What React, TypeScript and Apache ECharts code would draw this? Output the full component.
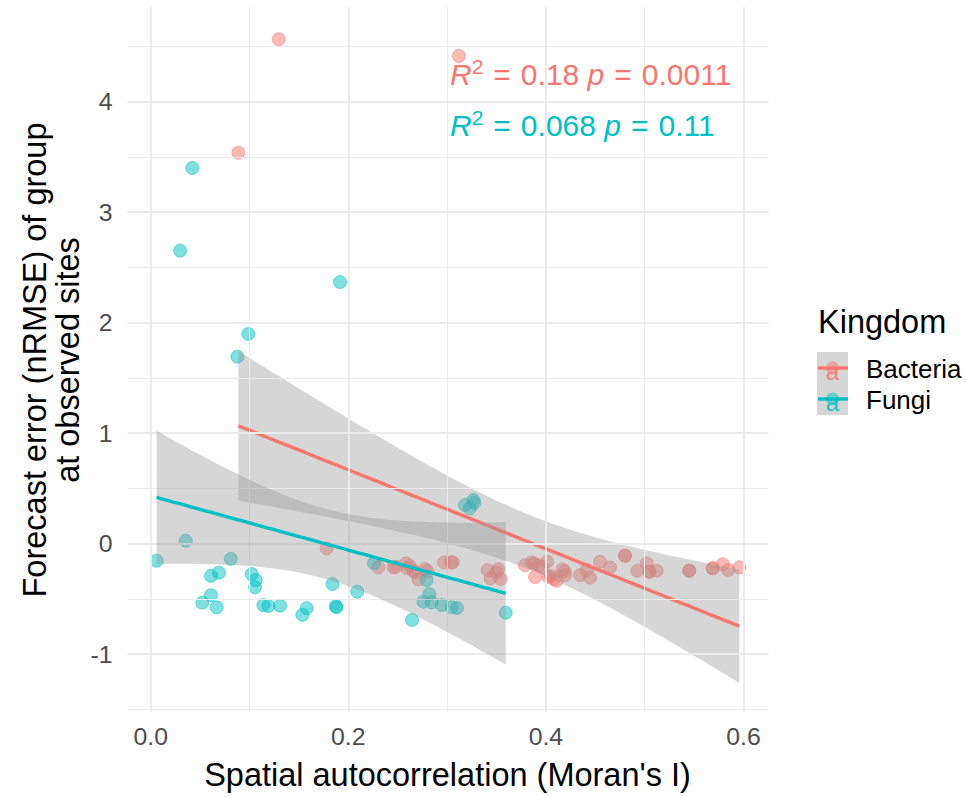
import React, { useEffect, useRef } from "react";
import * as echarts from "echarts";

// Moran's I (x) and forecast nRMSE (y) per group, split by kingdom
const bacteriaX = [
  0.1296, 0.0887, 0.312, 0.178, 0.2304, 0.2456, 0.2584, 0.2597, 0.2658, 0.2776,
  0.2709, 0.2969, 0.3057, 0.341, 0.3518, 0.344, 0.3542, 0.3788, 0.3855, 0.3933,
  0.4014, 0.389, 0.4025, 0.411, 0.4169, 0.4193, 0.4345, 0.4413, 0.4447, 0.4547,
  0.4649, 0.4801, 0.4925, 0.502, 0.5047, 0.5121, 0.5451, 0.5688, 0.579, 0.5846,
  0.5958, 0.262, 0.268, 0.28, 0.35, 0.388, 0.396, 0.405, 0.408, 0.419,
  0.4801, 0.5047, 0.5451, 0.5688, 0.304, 0.248,
];
const bacteriaY = [
  4.565, 3.538, 4.414, -0.042, -0.214, -0.214, -0.178, -0.223, -0.244, -0.229,
  -0.322, -0.169, -0.169, -0.238, -0.232, -0.313, -0.319, -0.194, -0.169, -0.194,
  -0.163, -0.301, -0.301, -0.335, -0.232, -0.284, -0.284, -0.238, -0.307, -0.163,
  -0.214, -0.109, -0.244, -0.178, -0.253, -0.244, -0.244, -0.223, -0.186, -0.238,
  -0.214, -0.2, -0.26, -0.25, -0.26, -0.18, -0.21, -0.29, -0.32, -0.25,
  -0.109, -0.253, -0.244, -0.223, -0.17, -0.21,
];
const fungiX = [
  0.006, 0.0354, 0.0297, 0.0421, 0.081, 0.0877, 0.0988, 0.061, 0.0691, 0.061,
  0.0522, 0.0668, 0.1022, 0.1063, 0.1056, 0.114, 0.1191, 0.1309, 0.1579, 0.1535,
  0.184, 0.1875, 0.188, 0.209, 0.1916, 0.226, 0.2793, 0.282, 0.276, 0.2844,
  0.2945, 0.3047, 0.31, 0.2645, 0.318, 0.3266, 0.323, 0.3593, 0.3275,
];
const fungiY = [
  -0.154, 0.027, 2.652, 3.4, -0.138, 1.692, 1.898, -0.29, -0.262, -0.466,
  -0.534, -0.576, -0.275, -0.329, -0.395, -0.555, -0.564, -0.561, -0.583, -0.643,
  -0.365, -0.565, -0.575, -0.434, 2.368, -0.178, -0.329, -0.455, -0.525, -0.53,
  -0.555, -0.576, -0.582, -0.69, 0.35, 0.395, 0.32, -0.624, 0.37,
];

const kingdoms = ["Bacteria", "Fungi"];
const kingdomColors = ["#F8766D", "#00BFC4"];
const r2Labels = ["0.18", "0.068"];
const pLabels = ["0.0011", "0.11"];

const xMajor = [0, 0.2, 0.4, 0.6];
const xMinor = [0.1, 0.3, 0.5];
const yMajor = [-1, 0, 1, 2, 3, 4];
const yMinor = [-1.5, -0.5, 0.5, 1.5, 2.5, 3.5, 4.5];

const FONT = "'Liberation Sans', Arial, Helvetica, sans-serif";

function rgba(hex: string, a: number) {
  const n = parseInt(hex.slice(1), 16);
  return `rgba(${(n >> 16) & 255},${(n >> 8) & 255},${n & 255},${a})`;
}

// Student t quantile (Cornish-Fisher expansion around the normal quantile)
function tQuantile975(df: number) {
  const z = 1.959964;
  const g1 = (z ** 3 + z) / 4;
  const g2 = (5 * z ** 5 + 16 * z ** 3 + 3 * z) / 96;
  const g3 = (3 * z ** 7 + 19 * z ** 5 + 17 * z ** 3 - 15 * z) / 384;
  return z + g1 / df + g2 / df ** 2 + g3 / df ** 3;
}

// Ordinary least squares fit with a 95% confidence band, evaluated on 80 points
function lmSmooth(xs: number[], ys: number[]) {
  const n = xs.length;
  const mx = xs.reduce((s, v) => s + v, 0) / n;
  const my = ys.reduce((s, v) => s + v, 0) / n;
  let sxx = 0;
  let sxy = 0;
  for (let i = 0; i < n; i++) {
    sxx += (xs[i] - mx) ** 2;
    sxy += (xs[i] - mx) * (ys[i] - my);
  }
  const b = sxy / sxx;
  const a = my - b * mx;
  let sse = 0;
  for (let i = 0; i < n; i++) sse += (ys[i] - a - b * xs[i]) ** 2;
  const s2 = sse / (n - 2);
  const t = tQuantile975(n - 2);
  const lo = Math.min(...xs);
  const hi = Math.max(...xs);
  const line: number[][] = [];
  const band: number[][] = [];
  const steps = 80;
  for (let k = 0; k < steps; k++) {
    const x = lo + ((hi - lo) * k) / (steps - 1);
    const yhat = a + b * x;
    const se = Math.sqrt(s2 * (1 / n + (x - mx) ** 2 / sxx));
    line.push([x, yhat]);
    band.push([x, yhat - t * se, yhat + t * se]);
  }
  return { line, band };
}

const zip = (xs: number[], ys: number[]) => xs.map((x, i) => [x, ys[i]]);

export default function App() {
  const ref = useRef<HTMLDivElement>(null);

  useEffect(() => {
    if (!ref.current) return;
    const chart = echarts.init(ref.current, undefined, { renderer: "svg" });

    const groups = [
      { xs: bacteriaX, ys: bacteriaY },
      { xs: fungiX, ys: fungiY },
    ];
    const fits = groups.map((g) => lmSmooth(g.xs, g.ys));

    const pointSeries = groups.map((g, i) => ({
      type: "scatter",
      name: kingdoms[i],
      data: zip(g.xs, g.ys),
      symbol: "circle",
      symbolSize: 13,
      clip: false,
      z: 2,
      itemStyle: {
        color: rgba(kingdomColors[i], 0.5),
        borderColor: rgba(kingdomColors[i], 0.5),
        borderWidth: 1,
        opacity: 1,
      },
    }));

    const smoothSeries: any[] = [];
    fits.forEach((f, i) => {
      smoothSeries.push({
        type: "custom",
        name: kingdoms[i] + " band",
        data: f.band,
        encode: { x: 0, y: [1, 2] },
        z: 3 + i * 2,
        silent: true,
        renderItem: (params: any, api: any) => {
          if (params.dataIndex !== 0) return null;
          const upper = f.band.map((r) => api.coord([r[0], r[2]]));
          const lower = f.band
            .slice()
            .reverse()
            .map((r) => api.coord([r[0], r[1]]));
          return {
            type: "polygon",
            shape: { points: upper.concat(lower) },
            style: { fill: "rgba(153,153,153,0.4)", stroke: "none" },
          };
        },
      });
      smoothSeries.push({
        type: "line",
        name: kingdoms[i] + " fit",
        data: f.line,
        showSymbol: false,
        symbol: "none",
        z: 4 + i * 2,
        silent: true,
        lineStyle: { color: kingdomColors[i], width: 3.4 },
      });
    });

    const gridLine = (width: number) => ({
      color: "#EBEBEB",
      width,
      type: "solid",
    });

    const gridSeries = {
      type: "scatter",
      name: "grid",
      data: [[0, 0]],
      symbolSize: 0,
      silent: true,
      z: 1,
      itemStyle: { opacity: 0 },
      markLine: {
        silent: true,
        symbol: ["none", "none"],
        label: { show: false },
        animation: false,
        data: [
          ...xMinor.map((v) => ({ xAxis: v, lineStyle: gridLine(1) })),
          ...yMinor.map((v) => ({ yAxis: v, lineStyle: gridLine(1) })),
          ...xMajor.map((v) => ({ xAxis: v, lineStyle: gridLine(2) })),
          ...yMajor.map((v) => ({ yAxis: v, lineStyle: gridLine(2) })),
        ],
      },
    };

    const statTexts = kingdoms.map((_, i) => {
      const c = kingdomColors[i];
      return {
        type: "text",
        left: 450,
        top: 56 + i * 51,
        z: 10,
        style: {
          text: `{i|R}{s|2}{e|=}{n|${r2Labels[i]} }{i|p}{e|=}{n|${pLabels[i]}}`,
          fill: c,
          rich: {
            i: { fontStyle: "italic", fontSize: 30, fontFamily: FONT, fill: c, verticalAlign: "bottom" },
            s: {
              fontSize: 21,
              lineHeight: 21,
              fontFamily: FONT,
              fill: c,
              verticalAlign: "bottom",
              padding: [0, 0, 12, 0],
            },
            e: { fontSize: 30, fontFamily: FONT, fill: c, verticalAlign: "bottom", padding: [0, 10, 0, 10] },
            n: { fontSize: 30, fontFamily: FONT, fill: c, verticalAlign: "bottom" },
          },
        },
      };
    });

    const legendKeys: any[] = [
      {
        type: "rect",
        shape: { x: 817, y: 352, width: 31, height: 63 },
        style: { fill: "#D6D6D6" },
      },
    ];
    kingdoms.forEach((k, i) => {
      const cy = 368 + i * 31;
      legendKeys.push(
        {
          type: "circle",
          shape: { cx: 832.5, cy, r: 6.5 },
          style: { fill: rgba(kingdomColors[i], 0.5) },
        },
        {
          type: "line",
          shape: { x1: 818, y1: cy, x2: 848, y2: cy },
          style: { stroke: kingdomColors[i], lineWidth: 3.4 },
        },
        {
          type: "text",
          x: 832.5,
          y: cy + 3,
          style: {
            text: "a",
            fill: kingdomColors[i],
            font: `24px ${FONT}`,
            align: "center",
            verticalAlign: "middle",
            opacity: 0.9,
          },
        },
        {
          type: "text",
          x: 866,
          y: cy + 1,
          style: {
            text: k,
            fill: "#000000",
            font: `26px ${FONT}`,
            align: "left",
            verticalAlign: "middle",
          },
        }
      );
    });

    chart.setOption({
      animation: false,
      backgroundColor: "#FFFFFF",
      grid: { left: 127.5, right: 197.5, top: 7.2, bottom: 85, containLabel: false },
      xAxis: {
        type: "value",
        min: -0.0235,
        max: 0.6253,
        axisLine: { show: false },
        axisTick: { show: false },
        splitLine: { show: false },
        axisLabel: {
          customValues: xMajor,
          formatter: (v: number) => v.toFixed(1),
          color: "#4D4D4D",
          fontSize: 24.8,
          fontFamily: FONT,
          margin: 12,
        },
      },
      yAxis: {
        type: "value",
        min: -1.523,
        max: 4.855,
        axisLine: { show: false },
        axisTick: { show: false },
        splitLine: { show: false },
        axisLabel: {
          customValues: yMajor,
          formatter: (v: number) => String(v),
          color: "#4D4D4D",
          fontSize: 24.8,
          fontFamily: FONT,
          margin: 15,
        },
      },
      graphic: [
        ...statTexts,
        {
          type: "text",
          x: 447.5,
          y: 775,
          style: {
            text: "Spatial autocorrelation (Moran's I)",
            fill: "#000000",
            font: `32.5px ${FONT}`,
            align: "center",
            verticalAlign: "middle",
          },
        },
        {
          type: "text",
          x: 51,
          y: 360,
          rotation: Math.PI / 2,
          style: {
            text: "Forecast error (nRMSE) of group\nat observed sites",
            fill: "#000000",
            font: `32.5px ${FONT}`,
            align: "center",
            verticalAlign: "middle",
            lineHeight: 33,
          },
        },
        {
          type: "text",
          x: 818,
          y: 322,
          style: {
            text: "Kingdom",
            fill: "#000000",
            font: `32.5px ${FONT}`,
            align: "left",
            verticalAlign: "middle",
          },
        },
        ...legendKeys,
      ],
      series: [gridSeries, ...pointSeries, ...smoothSeries],
    });

    return () => chart.dispose();
  }, []);

  return (
    <div
      ref={ref}
      style={{ position: "fixed", left: 0, top: 0, width: 966, height: 797, background: "#fff" }}
    />
  );
}
